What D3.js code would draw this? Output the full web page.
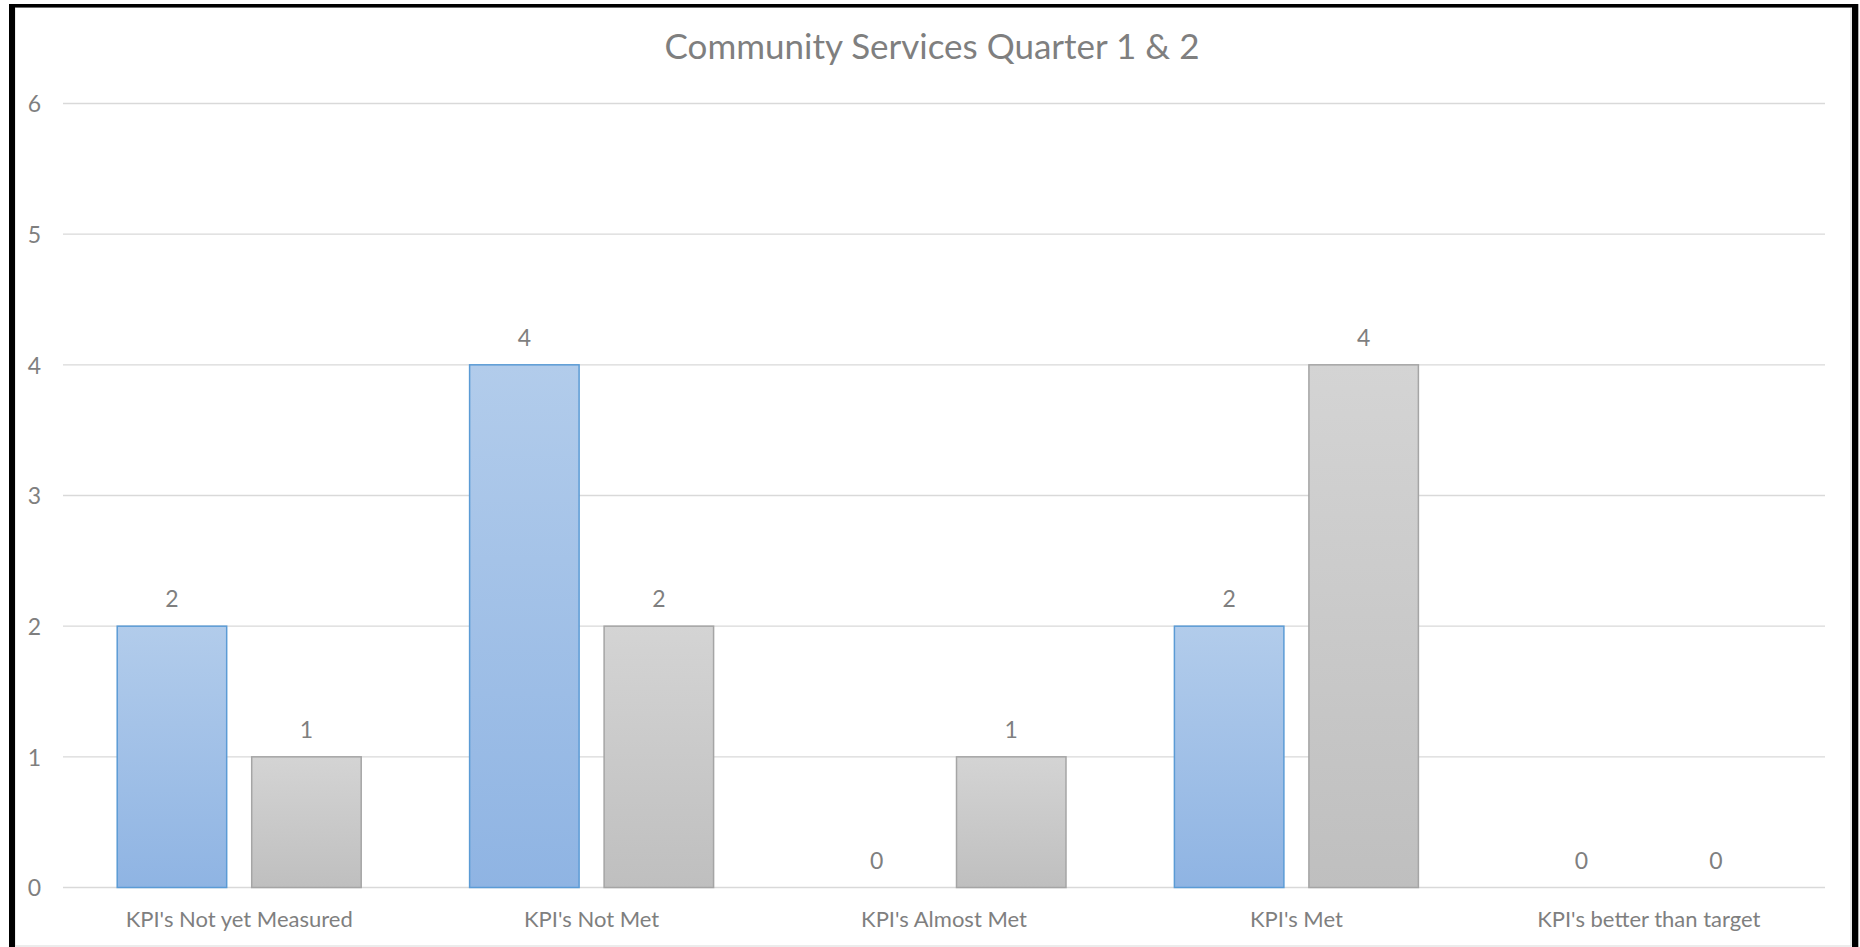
<!DOCTYPE html>
<html>
<head>
<meta charset="utf-8">
<script src="https://cdn.jsdelivr.net/npm/d3@7"></script>
<style>
    body { margin: 0; background: #ffffff; }
    svg { display: block; }
    text { font-family: Lato, "Open Sans", sans-serif; fill: #7f7f7f; }
</style>
</head>
<body>
<div id="chart"></div>
<script>
const title = 'Community Services Quarter 1 & 2';
const categories = ["KPI's Not yet Measured", "KPI's Not Met", "KPI's Almost Met", "KPI's Met", "KPI's better than target"];
const seriesNames = ['Quarter 1', 'Quarter 2'];
const quarter1 = [2, 4, 0, 2, 0];
const quarter2 = [1, 2, 1, 4, 0];
const yTicks = [0, 1, 2, 3, 4, 5, 6];

const width = 1860;
const height = 947;
const plot = { left: 63, right: 1825, top: 103.5, bottom: 887.5 };

const seriesStyle = {
    'Quarter 1': { top: '#b2cceb', bottom: '#8fb4e3', stroke: '#5b9bd5' },
    'Quarter 2': { top: '#d4d4d4', bottom: '#bfbfbf', stroke: '#a5a5a5' }
};

const rows = categories.map((c, i) => ({
    category: c,
    values: [
        { series: seriesNames[0], value: quarter1[i] },
        { series: seriesNames[1], value: quarter2[i] }
    ]
}));

const svg = d3.select('#chart')
    .append('svg')
    .attr('width', width)
    .attr('height', height);

// gradients, one per series, stretched over each bar
const defs = svg.append('defs');
seriesNames.forEach((s, i) => {
    const g = defs.append('linearGradient')
        .attr('id', 'grad' + i)
        .attr('x1', 0).attr('y1', 0)
        .attr('x2', 0).attr('y2', 1);
    g.append('stop').attr('offset', '0%').attr('stop-color', seriesStyle[s].top);
    g.append('stop').attr('offset', '100%').attr('stop-color', seriesStyle[s].bottom);
});

// chart area border + black frame
svg.append('rect')
    .attr('x', 15).attr('y', 7.5)
    .attr('width', 1836).attr('height', 938.5)
    .attr('fill', '#ffffff')
    .attr('stroke', '#d9d9d9')
    .attr('stroke-width', 1);

svg.append('rect').attr('x', 9).attr('y', 4).attr('width', 6).attr('height', height).attr('fill', '#000');
svg.append('rect').attr('x', 9).attr('y', 4).attr('width', 1849).attr('height', 3.5).attr('fill', '#000');
svg.append('rect').attr('x', 1852).attr('y', 4).attr('width', 6.3).attr('height', height).attr('fill', '#000');

const x0 = d3.scaleBand()
    .domain(categories)
    .range([plot.left, plot.right])
    .padding(0);

const x1 = d3.scaleBand()
    .domain(seriesNames)
    .range([0, x0.bandwidth()])
    .paddingInner(0.186)
    .paddingOuter(0.403);

const y = d3.scaleLinear()
    .domain([0, 6])
    .range([plot.bottom, plot.top]);

// gridlines
svg.append('g')
    .selectAll('line')
    .data(yTicks)
    .enter()
    .append('line')
    .attr('x1', plot.left)
    .attr('x2', plot.right)
    .attr('y1', d => y(d))
    .attr('y2', d => y(d))
    .attr('stroke', '#d9d9d9')
    .attr('stroke-width', 1.3);

// y axis labels
const yAxis = d3.axisLeft(y).tickValues(yTicks).tickFormat(d3.format('d')).tickSize(0).tickPadding(0);
const yG = svg.append('g')
    .attr('transform', 'translate(41,0)')
    .call(yAxis);
yG.select('.domain').remove();
yG.selectAll('text')
    .attr('font-size', 23)
    .attr('font-family', null)
    .attr('fill', '#7f7f7f')
    .attr('dy', '0.36em');

// x axis labels
const xAxis = d3.axisBottom(x0).tickSize(0).tickPadding(0);
const xG = svg.append('g')
    .attr('transform', 'translate(0,927)')
    .call(xAxis);
xG.select('.domain').remove();
xG.selectAll('text')
    .attr('font-size', 22)
    .attr('font-family', null)
    .attr('fill', '#7f7f7f')
    .attr('dy', 0)
    .attr('y', 0);

// bars
const groups = svg.append('g')
    .selectAll('g')
    .data(rows)
    .enter()
    .append('g')
    .attr('transform', d => `translate(${x0(d.category)},0)`);

groups.selectAll('rect')
    .data(d => d.values.filter(v => v.value > 0))
    .enter()
    .append('rect')
    .attr('x', d => x1(d.series))
    .attr('y', d => y(d.value))
    .attr('width', x1.bandwidth())
    .attr('height', d => y(0) - y(d.value))
    .attr('fill', d => `url(#grad${seriesNames.indexOf(d.series)})`)
    .attr('stroke', d => seriesStyle[d.series].stroke)
    .attr('stroke-width', 1.5);

// data labels
groups.selectAll('text')
    .data(d => d.values)
    .enter()
    .append('text')
    .attr('x', d => x1(d.series) + x1.bandwidth() / 2)
    .attr('y', d => y(d.value) - 19)
    .attr('text-anchor', 'middle')
    .attr('font-size', 23)
    .text(d => d.value);

// title
svg.append('text')
    .attr('x', 932)
    .attr('y', 59)
    .attr('text-anchor', 'middle')
    .attr('font-size', 35)
    .attr('fill', '#757575')
    .text(title);
</script>
</body>
</html>
